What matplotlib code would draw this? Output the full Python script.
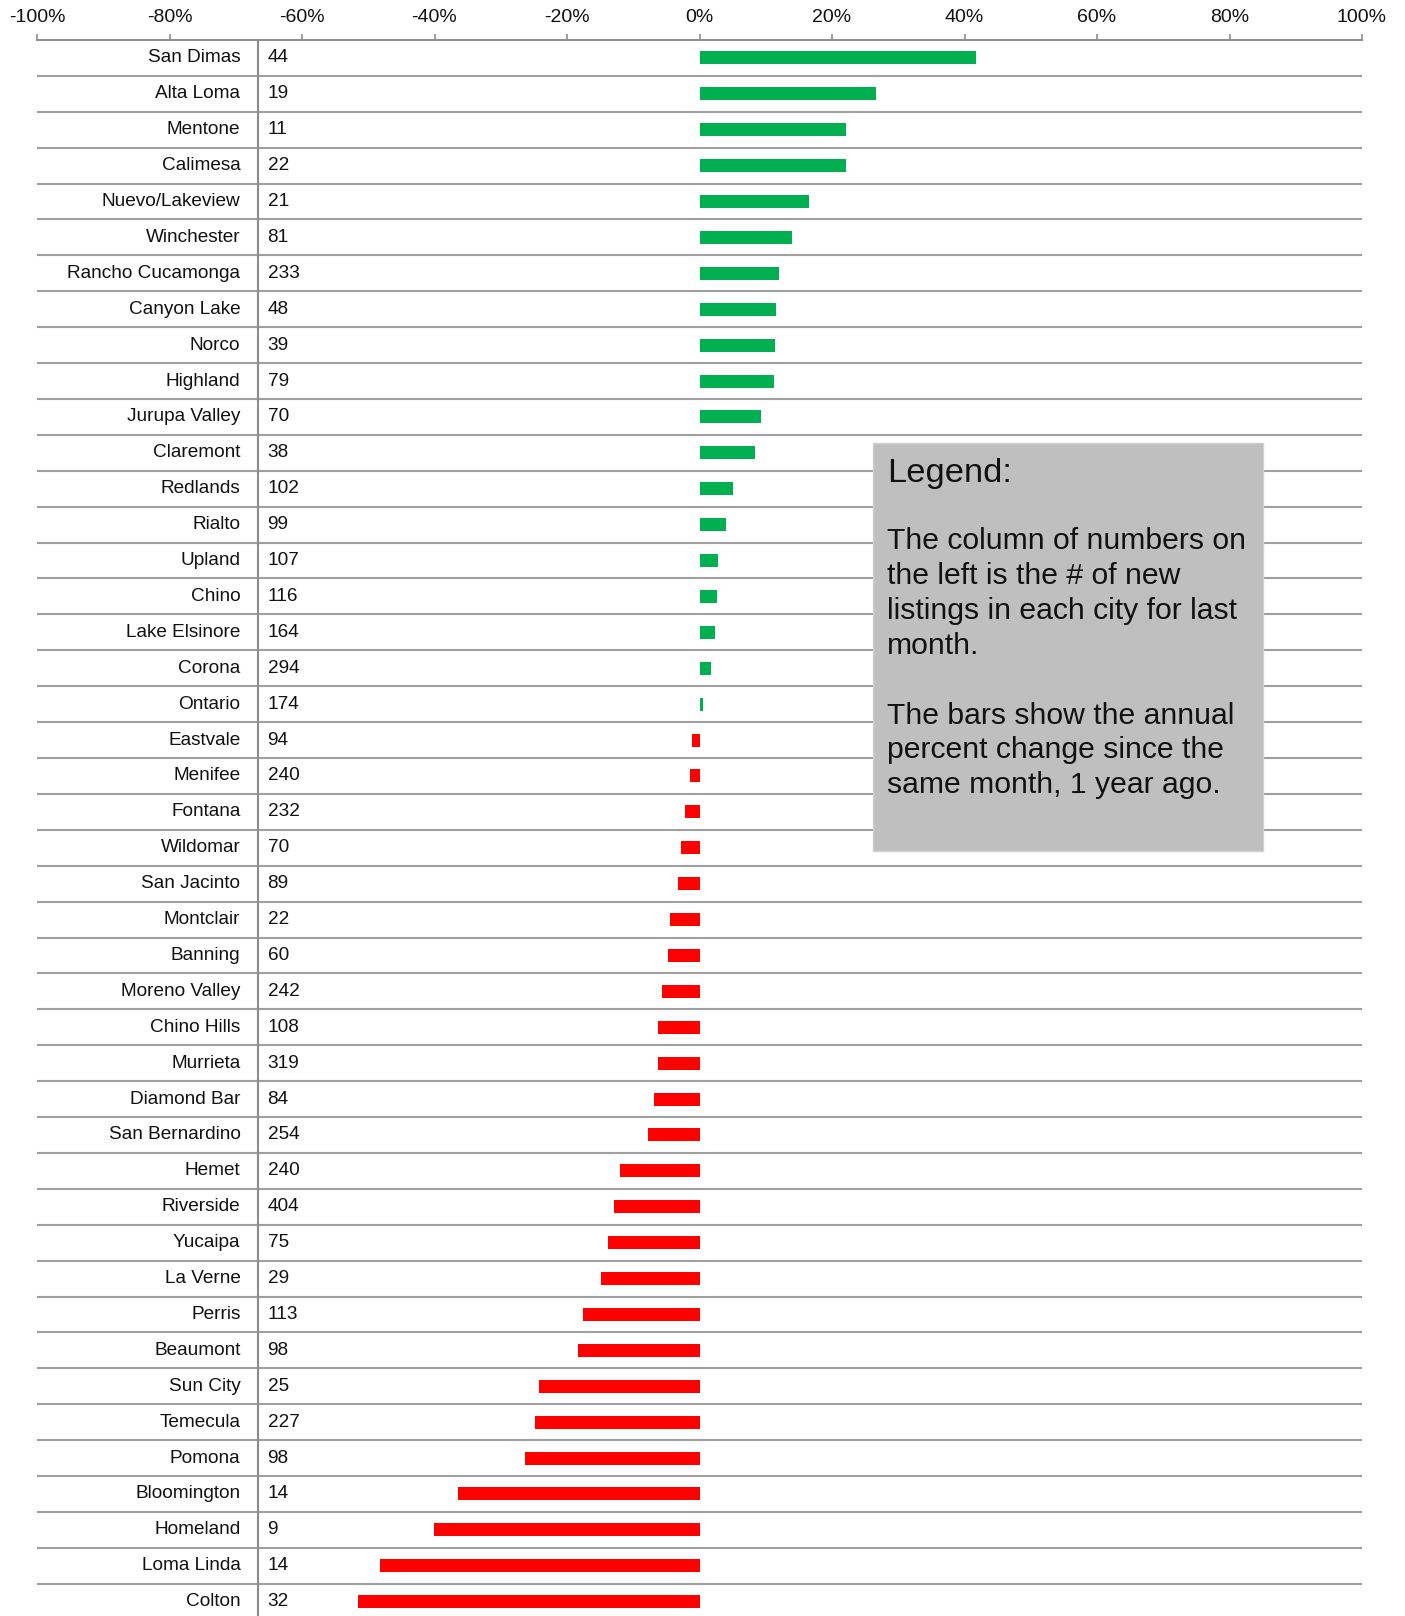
import matplotlib
matplotlib.use("Agg")
import matplotlib.pyplot as plt
from matplotlib.patches import Rectangle
from matplotlib.ticker import FuncFormatter

plt.rcParams['font.family'] = ['Liberation Sans', 'DejaVu Sans']

cities = ["San Dimas", "Alta Loma", "Mentone", "Calimesa", "Nuevo/Lakeview", "Winchester",
          "Rancho Cucamonga", "Canyon Lake", "Norco", "Highland", "Jurupa Valley", "Claremont",
          "Redlands", "Rialto", "Upland", "Chino", "Lake Elsinore", "Corona", "Ontario",
          "Eastvale", "Menifee", "Fontana", "Wildomar", "San Jacinto", "Montclair", "Banning",
          "Moreno Valley", "Chino Hills", "Murrieta", "Diamond Bar", "San Bernardino", "Hemet",
          "Riverside", "Yucaipa", "La Verne", "Perris", "Beaumont", "Sun City", "Temecula",
          "Pomona", "Bloomington", "Homeland", "Loma Linda", "Colton"]
listings = [44, 19, 11, 22, 21, 81, 233, 48, 39, 79, 70, 38, 102, 99, 107, 116, 164, 294, 174,
            94, 240, 232, 70, 89, 22, 60, 242, 108, 319, 84, 254, 240, 404, 75, 29, 113, 98,
            25, 227, 98, 14, 9, 14, 32]
pct_change = [41.8, 26.6, 22.1, 22.1, 16.6, 14.0, 12.0, 11.5, 11.4, 11.2, 9.3, 8.4, 5.1, 4.0,
              2.8, 2.6, 2.3, 1.7, 0.5, -1.2, -1.4, -2.2, -2.8, -3.3, -4.4, -4.8, -5.6, -6.2,
              -6.2, -6.8, -7.8, -12.0, -12.9, -13.8, -14.8, -17.6, -18.4, -24.3, -24.9, -26.4,
              -36.5, -40.1, -48.2, -51.6]
xticks = [-100, -80, -60, -40, -20, 0, 20, 40, 60, 80, 100]

legend_title = "Legend:"
legend_lines = ["The column of numbers on", "the left is the # of new",
                "listings in each city for last", "month.", "",
                "The bars show the annual", "percent change since the",
                "same month, 1 year ago."]

W, H = 1405, 1616
fig = plt.figure(figsize=(W / 100, H / 100), dpi=100)
top_px = 40
row_px = 35.9
n = len(cities)
ax_h = n * row_px
ax = fig.add_axes([37 / W, 1 - (top_px + ax_h) / H, (1362 - 37) / W, ax_h / H])

ys = list(range(n))
colors = ["#00b050" if v >= 0 else "#ff0000" for v in pct_change]
ax.barh(ys, pct_change, height=0.36, color=colors, zorder=3)

ax.set_xlim(-100, 100)
ax.set_ylim(n - 0.5, -0.5)

grid_c = "#a0a0a0"
for i in range(n - 1):
    ax.axhline(i + 0.5, color=grid_c, lw=1.5, zorder=2)
ax.axvline(-66.7, color="#8c8c8c", lw=1.5, zorder=2)

for y, c, num in zip(ys, cities, listings):
    ax.text(-69.3, y, c, ha="right", va="center", fontsize=13.7, color="#111111")
    ax.text(-65.2, y, str(num), ha="left", va="center", fontsize=13.7, color="#111111")

ax.xaxis.tick_top()
ax.set_xticks(xticks)
ax.xaxis.set_major_formatter(FuncFormatter(lambda v, p: f"{int(v)}%"))
ax.tick_params(axis="x", direction="out", length=4, width=1.2, color="#909090",
               labelsize=14, pad=6, labelcolor="#111111")
ax.set_yticks([])
for s in ["left", "right", "bottom"]:
    ax.spines[s].set_visible(False)
ax.spines["top"].set_color("#909090")
ax.spines["top"].set_linewidth(1.5)

# legend box
bx0, bx1, by0, by1 = 873, 1263, 443, 851
fig.patches.append(Rectangle((bx0 / W, 1 - by1 / H), (bx1 - bx0) / W, (by1 - by0) / H,
                             transform=fig.transFigure, facecolor="#bfbfbf",
                             edgecolor="#d0d0d0", lw=1, zorder=10))
fig.text(887 / W, 1 - 474 / H, legend_title, fontsize=24.8, va="center", ha="left",
         color="#111111", zorder=11)
y0 = 541
for k, line in enumerate(legend_lines):
    if line:
        fig.text(887 / W, 1 - (y0 + 34.9 * k) / H, line, fontsize=21.7, va="center",
                 ha="left", color="#111111", zorder=11)

fig.savefig("out.png", dpi=100, facecolor="white")
